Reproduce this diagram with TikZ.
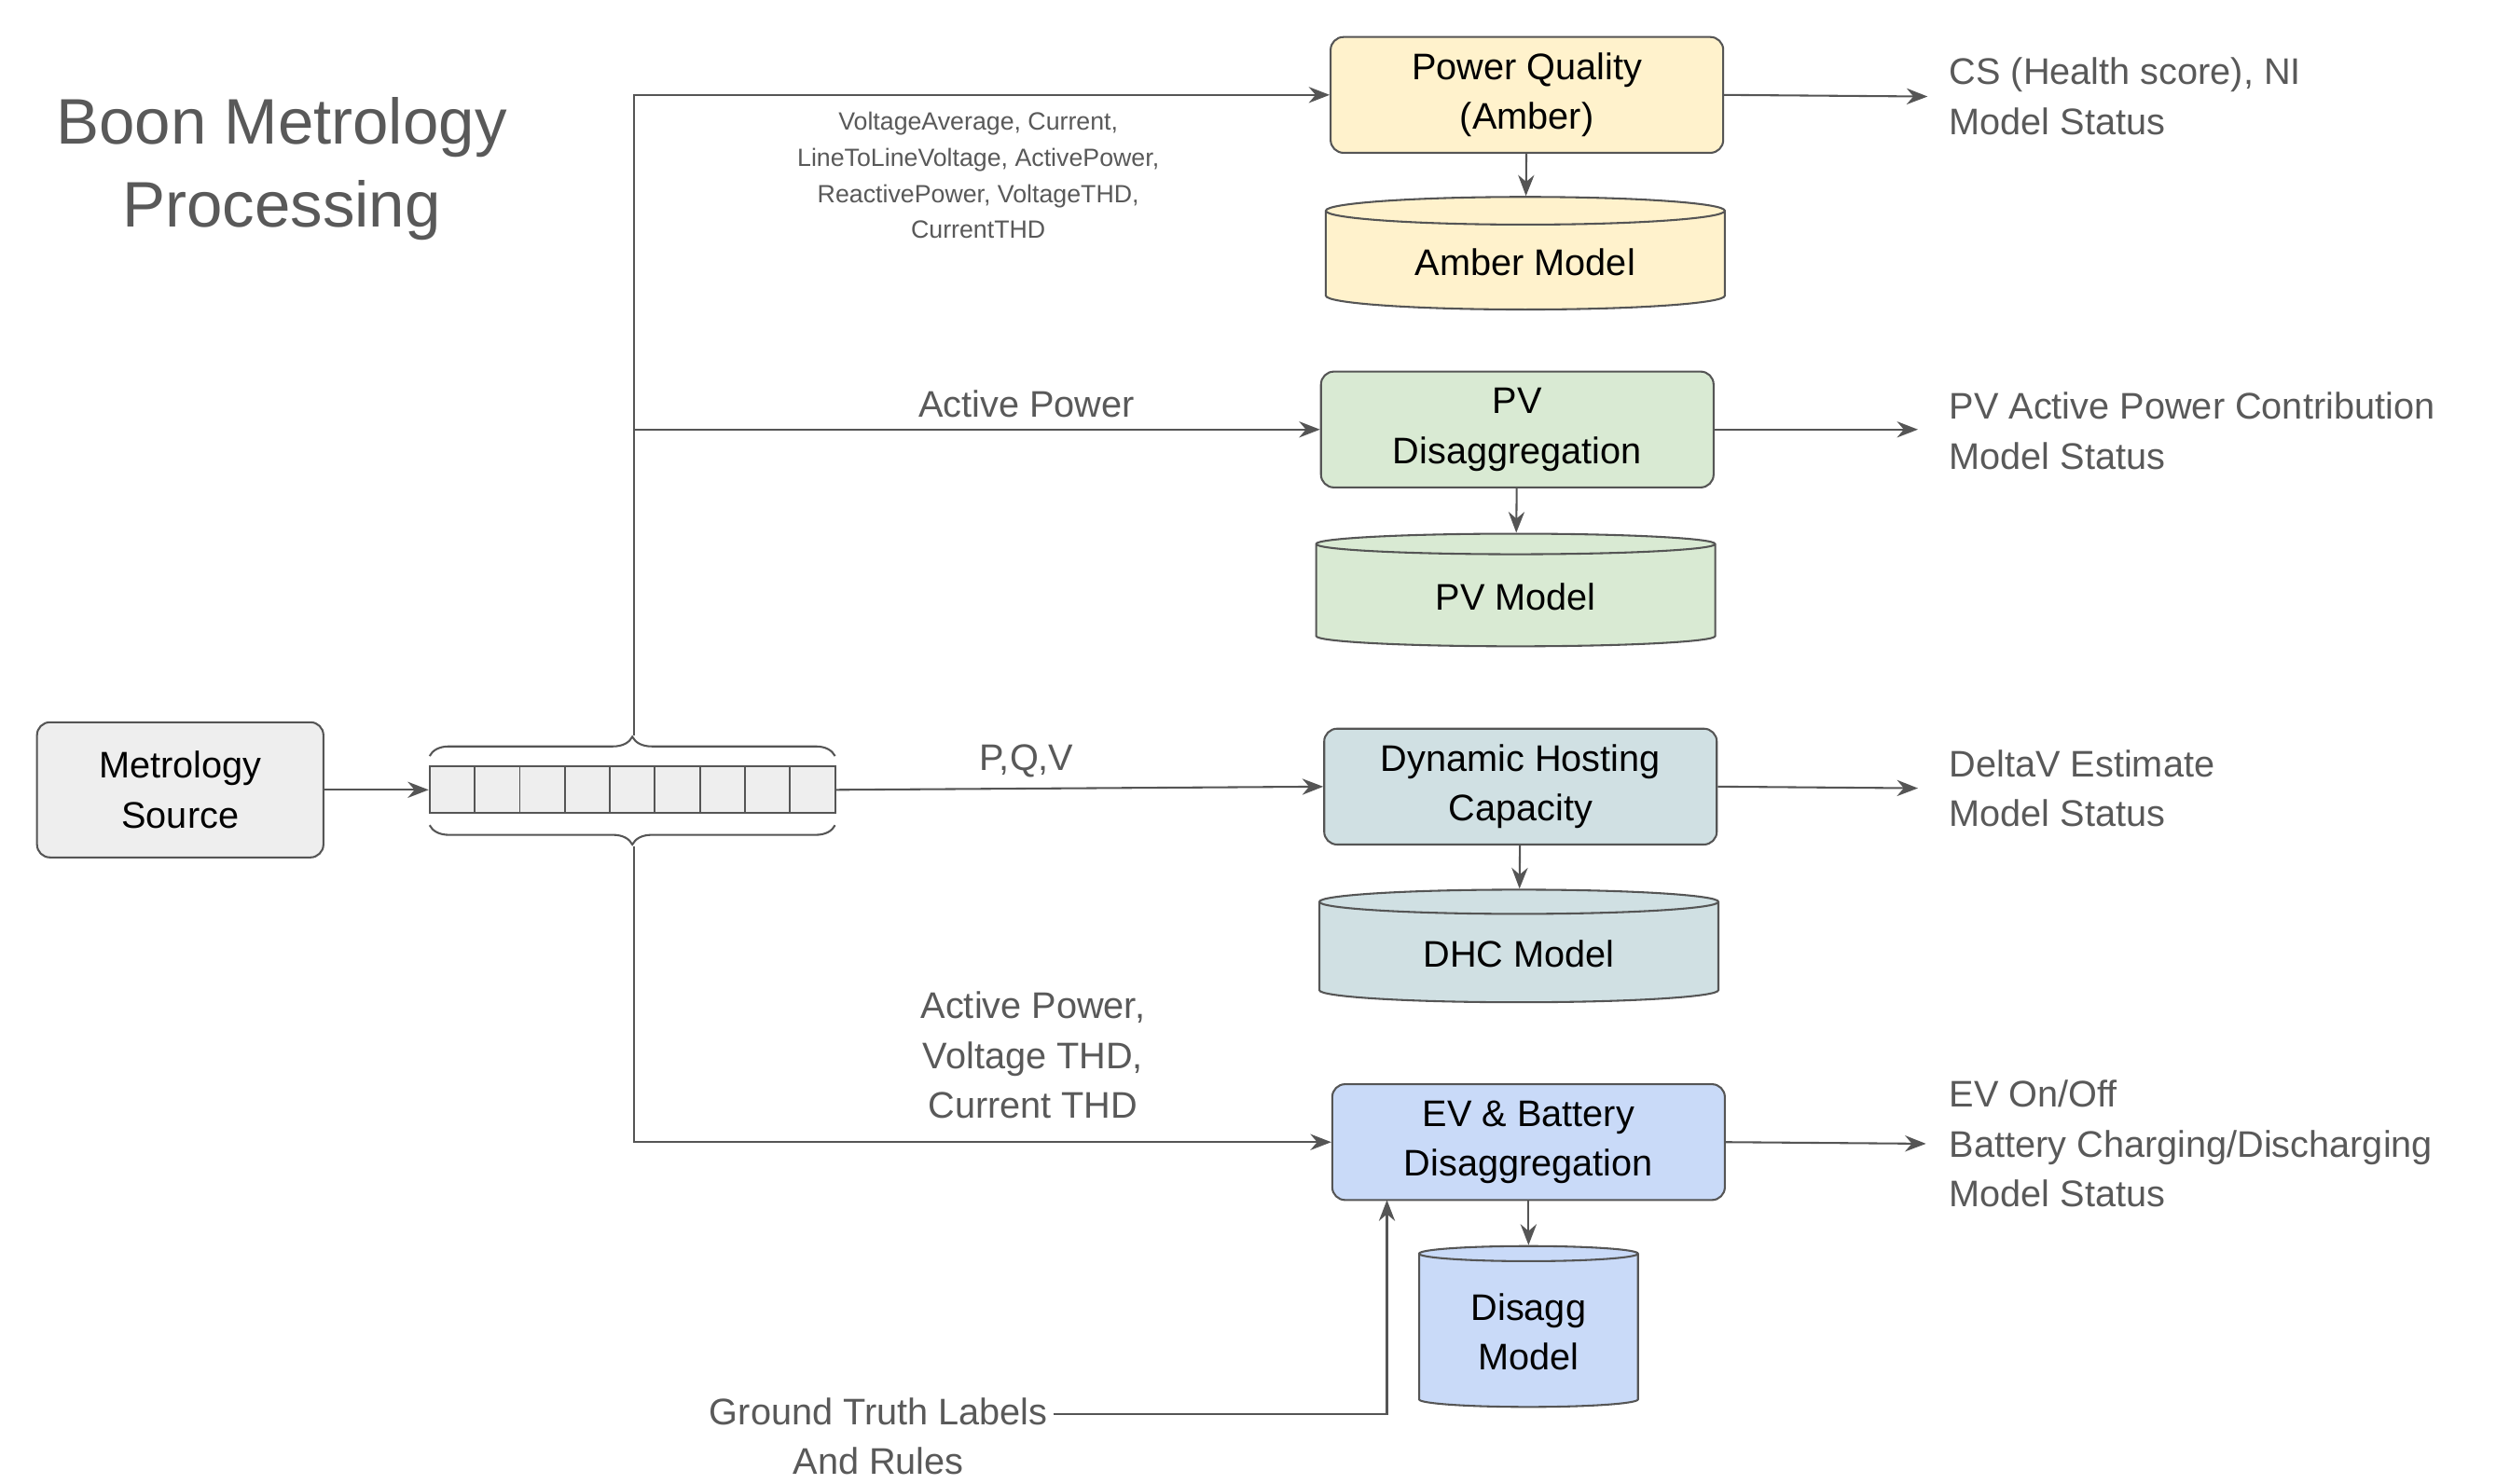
\documentclass[tikz,border=0pt]{standalone}
\usepackage{fontspec}
\setmainfont{Liberation Sans}
\usetikzlibrary{shapes.geometric,arrows.meta,decorations.pathreplacing,positioning}
\definecolor{txt}{HTML}{595959}
\definecolor{ln}{HTML}{555555}
\definecolor{amb}{HTML}{FFF2CC}
\definecolor{pvc}{HTML}{D9EAD3}
\definecolor{dhcc}{HTML}{D0E0E3}
\definecolor{evc}{HTML}{C9DAF8}
\tikzset{
  box/.style={draw=ln,line width=1.2pt,rounded corners=8pt,minimum width=244pt,minimum height=72pt,align=center,font=\fontsize{23}{31}\selectfont},
  db/.style={cylinder,shape border rotate=90,aspect=0.12,draw=ln,line width=1.2pt,minimum width=248pt,minimum height=70pt,align=center,font=\fontsize{23}{31}\selectfont},
  lbl/.style={text=txt,align=center,font=\fontsize{23}{31}\selectfont},
  outtxt/.style={text=txt,align=left,anchor=west,font=\fontsize{23}{31}\selectfont},
  arr/.style={draw=ln,line width=1.2pt,-{Stealth[length=13pt,width=10pt]}}
}
\begin{document}
\begin{tikzpicture}[x=1pt,y=-1pt]
\useasboundingbox[fill=white] (0,0) rectangle (1560,922);

% title
\node[text=txt,align=center,font=\fontsize{40}{52}\selectfont] (title) at (175,105) {Boon Metrology\\Processing};

% source and queue
\node[box,fill=gray!13,minimum width=178pt,minimum height=84pt] (src) at (112,491) {Metrology\\Source};
\node[draw=ln,line width=1.2pt,fill=gray!13,minimum width=252pt,minimum height=29pt,inner sep=0pt] (q) at (393,491) {};
\foreach \i in {1,...,8} \draw[ln,line width=1pt] (267+28*\i,477) -- (267+28*\i,506);
\draw[ln,line width=1.2pt,decorate,decoration={brace,amplitude=12pt}] (267,470) -- (519,470);
\draw[ln,line width=1.2pt,decorate,decoration={brace,amplitude=12pt,mirror}] (267,513) -- (519,513);
\coordinate (qt) at (394,457);
\coordinate (qb) at (394,526);

% processors
\node[box,fill=amb] (pq) at (949,59) {Power Quality\\(Amber)};
\node[db,fill=amb] (amber) at (948,163) {Amber Model};
\node[box,fill=pvc] (pv) at (943,267) {PV\\Disaggregation};
\node[db,fill=pvc] (pvm) at (942,371) {PV Model};
\node[box,fill=dhcc] (dhc) at (945,489) {Dynamic Hosting\\Capacity};
\node[db,fill=dhcc] (dhcm) at (944,593) {DHC Model};
\node[box,fill=evc] (ev) at (950,710) {EV \& Battery\\Disaggregation};
\node[db,fill=evc,minimum width=136pt,minimum height=100pt] (evm) at (950,828) {Disagg\\Model};

\foreach \a/\b in {pq/amber,pv/pvm,dhc/dhcm,ev/evm} \draw[arr] (\a) -- (\b);

% feeds
\draw[arr] (qt) |- (pq.west);
\draw[arr] (394,267) -- (pv.west);
\draw[arr] (q.east) -- (dhc.west);
\draw[arr] (qb) |- (ev.west);
\node[text=txt,align=center,font=\fontsize{15.5}{22.5}\selectfont] (pql) at (608,109) {VoltageAverage, Current,\\LineToLineVoltage, ActivePower,\\ReactivePower, VoltageTHD,\\CurrentTHD};
\node[lbl] (pvl) at (638,251) {Active Power};
\node[lbl] (dhcl) at (638,473) {P,Q,V};
\node[lbl] (evl) at (642,656) {Active Power,\\Voltage THD,\\Current THD};
\draw[arr] (src) -- (q.west);

% outputs
\coordinate (o1) at (1198,60);
\coordinate (o2) at (1192,267);
\coordinate (o3) at (1192,490);
\coordinate (o4) at (1197,711);
\draw[arr] (pq.east) -- (o1);
\draw[arr] (pv.east) -- (o2);
\draw[arr] (dhc.east) -- (o3);
\draw[arr] (ev.east) -- (o4);
\node[outtxt] (out1) at (1208,60) {CS (Health score), NI\\Model Status};
\node[outtxt] (out2) at (1208,268) {PV Active Power Contribution\\Model Status};
\node[outtxt] (out3) at (1208,490) {DeltaV Estimate\\Model Status};
\node[outtxt] (out4) at (1208,711) {EV On/Off\\Battery Charging/Discharging\\Model Status};

% ground truth
\node[lbl] (gt) at (546,893) {Ground Truth Labels\\And Rules};
\draw[arr] (gt.east |- 0,879) -| (862,746);
\end{tikzpicture}
\end{document}
